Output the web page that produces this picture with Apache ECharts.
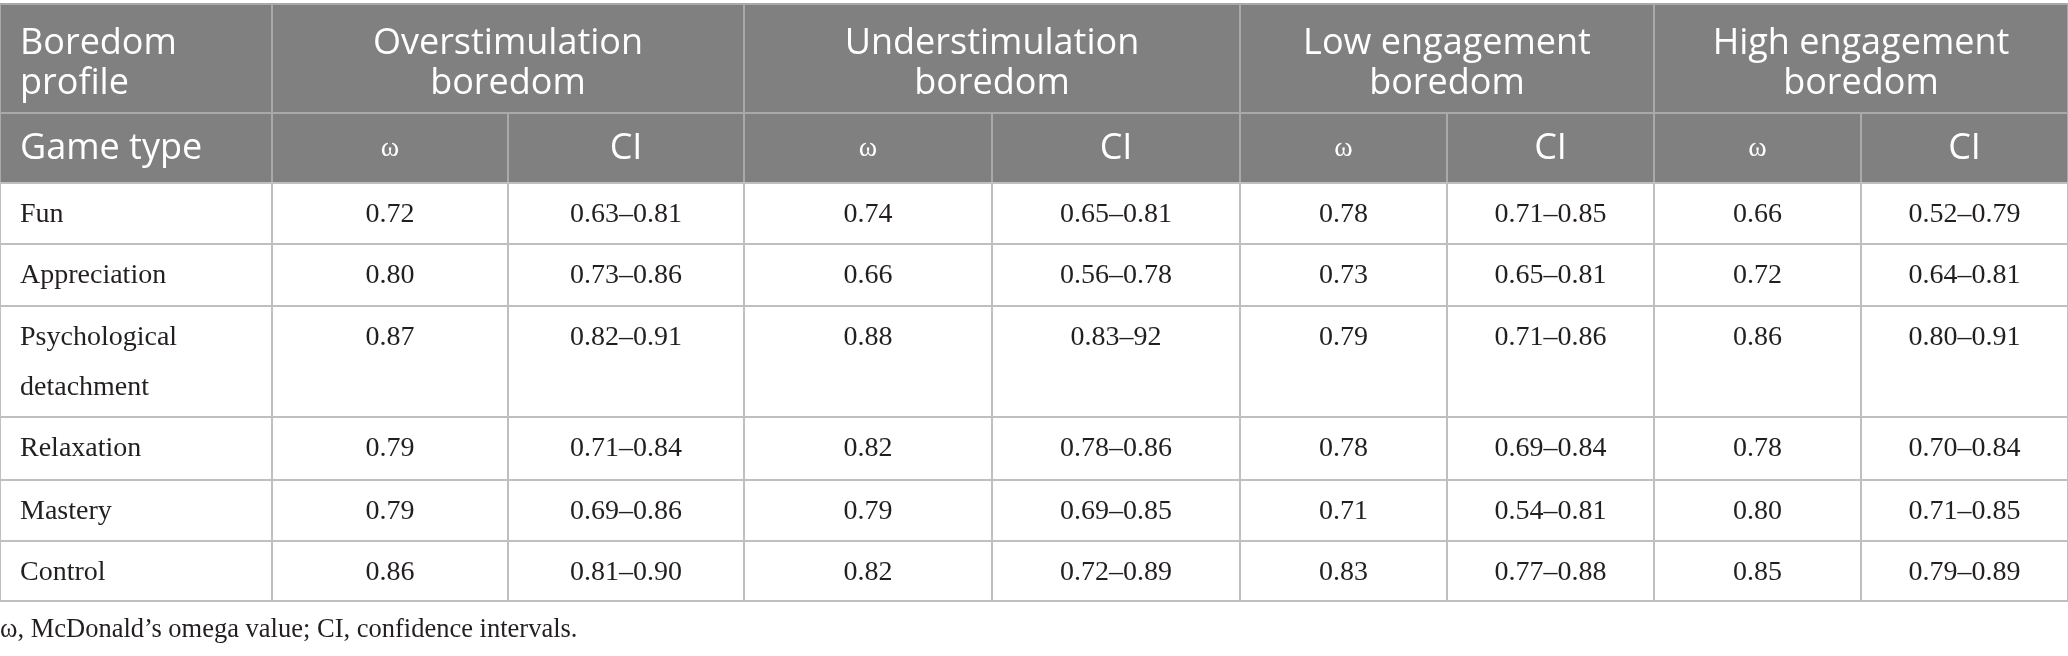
<!DOCTYPE html>
<html>
<head>
<meta charset="utf-8">
<title>Boredom profile reliability</title>
<script src="https://cdn.jsdelivr.net/npm/echarts@6/dist/echarts.min.js"></script>
<style>
  html, body { margin: 0; padding: 0; background: #fff; }
  #table { width: 2068px; height: 656px; }
</style>
</head>
<body>
<div id="table"></div>
<script>
// table content
var profiles = ['Overstimulation\nboredom', 'Understimulation\nboredom', 'Low engagement\nboredom', 'High engagement\nboredom'];
var subHeads = ['ω', 'CI'];
var gameTypes = ['Fun', 'Appreciation', 'Psychological\ndetachment', 'Relaxation', 'Mastery', 'Control'];

var omegaOver = [0.72, 0.80, 0.87, 0.79, 0.79, 0.86];
var ciOver = ['0.63–0.81', '0.73–0.86', '0.82–0.91', '0.71–0.84', '0.69–0.86', '0.81–0.90'];
var omegaUnder = [0.74, 0.66, 0.88, 0.82, 0.79, 0.82];
var ciUnder = ['0.65–0.81', '0.56–0.78', '0.83–92', '0.78–0.86', '0.69–0.85', '0.72–0.89'];
var omegaLow = [0.78, 0.73, 0.79, 0.78, 0.71, 0.83];
var ciLow = ['0.71–0.85', '0.65–0.81', '0.71–0.86', '0.69–0.84', '0.54–0.81', '0.77–0.88'];
var omegaHigh = [0.66, 0.72, 0.86, 0.78, 0.80, 0.85];
var ciHigh = ['0.52–0.79', '0.64–0.81', '0.80–0.91', '0.70–0.84', '0.71–0.85', '0.79–0.89'];

var footnote = 'ω, McDonald’s omega value; CI, confidence intervals.';

(function(){
    // layout: column / row edges in axis units (1 unit = 1px)
    var colEdges = [0, 272, 508, 744, 992, 1240, 1447, 1654, 1861, 2068];
    var rowEdges = [4, 113, 183, 244, 306, 417, 480, 541, 601];

    var sans = '"Open Sans", "Noto Sans", sans-serif';
    var serif = '"Liberation Serif", "DejaVu Serif", serif';

    var omegas = [omegaOver, omegaUnder, omegaLow, omegaHigh];
    var cis = [ciOver, ciUnder, ciLow, ciHigh];

    // every cell: column span, row, text, kind
    var cells = [];
    cells.push({c0: 0, c1: 1, r: 0, text: 'Boredom\nprofile', kind: 'head', left: true});
    profiles.forEach(function(p, g){
        cells.push({c0: 1 + 2 * g, c1: 3 + 2 * g, r: 0, text: p, kind: 'head'});
    });
    cells.push({c0: 0, c1: 1, r: 1, text: 'Game type', kind: 'head', left: true});
    profiles.forEach(function(p, g){
        cells.push({c0: 1 + 2 * g, c1: 2 + 2 * g, r: 1, text: subHeads[0], kind: 'headSerif'});
        cells.push({c0: 2 + 2 * g, c1: 3 + 2 * g, r: 1, text: subHeads[1], kind: 'head'});
    });
    gameTypes.forEach(function(t, i){
        cells.push({c0: 0, c1: 1, r: 2 + i, text: t, kind: 'body', left: true});
        for (var g = 0; g < 4; g++) {
            cells.push({c0: 1 + 2 * g, c1: 2 + 2 * g, r: 2 + i, text: omegas[g][i].toFixed(2), kind: 'body'});
            cells.push({c0: 2 + 2 * g, c1: 3 + 2 * g, r: 2 + i, text: cis[g][i], kind: 'body'});
        }
    });

    var chart = echarts.init(document.getElementById('table'));
    var option = {
        animation: false,
        title: {
            text: footnote,
            left: 0,
            top: 617,
            padding: 0,
            textStyle: {fontFamily: serif, fontSize: 26.5, fontWeight: 'normal', color: '#231f20'}
        },
        grid: {left: 0, right: 0, top: 0, bottom: 0},
        xAxis: {type: 'value', min: 0, max: 2068, show: false},
        yAxis: {type: 'value', min: 0, max: 656, inverse: true, show: false},
        series: [{
            type: 'custom',
            clip: false,
            data: cells.map(function(c){ return [colEdges[c.c0], rowEdges[c.r]]; }),
            encode: {x: 0, y: 1},
            renderItem: function(params, api){
                var c = cells[params.dataIndex];
                var p0 = api.coord([colEdges[c.c0], rowEdges[c.r]]);
                var p1 = api.coord([colEdges[c.c1], rowEdges[c.r + 1]]);
                var isHead = c.kind !== 'body';
                var tx = c.left ? p0[0] + 20 : (p0[0] + p1[0]) / 2;
                var textStyle;
                if (isHead) {
                    textStyle = {
                        text: c.text,
                        x: tx,
                        y: (p0[1] + p1[1]) / 2 + (c.r === 0 ? 5 : 1),
                        align: c.left ? 'left' : 'center',
                        verticalAlign: 'middle',
                        fill: '#ffffff',
                        fontFamily: c.kind === 'headSerif' ? serif : sans,
                        fontSize: c.kind === 'headSerif' ? 28 : 36,
                        lineHeight: 40
                    };
                } else {
                    textStyle = {
                        text: c.text,
                        x: tx,
                        y: p0[1] + 7,
                        align: c.left ? 'left' : 'center',
                        verticalAlign: 'top',
                        fill: '#231f20',
                        fontFamily: serif,
                        fontSize: 28,
                        lineHeight: 50
                    };
                }
                return {
                    type: 'group',
                    children: [{
                        type: 'rect',
                        shape: {x: p0[0], y: p0[1], width: p1[0] - p0[0], height: p1[1] - p0[1]},
                        style: {
                            fill: isHead ? '#808080' : '#ffffff',
                            stroke: isHead ? '#a9a9a9' : '#bfbfbf',
                            lineWidth: 2
                        }
                    }, {
                        type: 'text',
                        style: textStyle
                    }]
                };
            }
        }]
    };
    chart.setOption(option);
})();
</script>
</body>
</html>
